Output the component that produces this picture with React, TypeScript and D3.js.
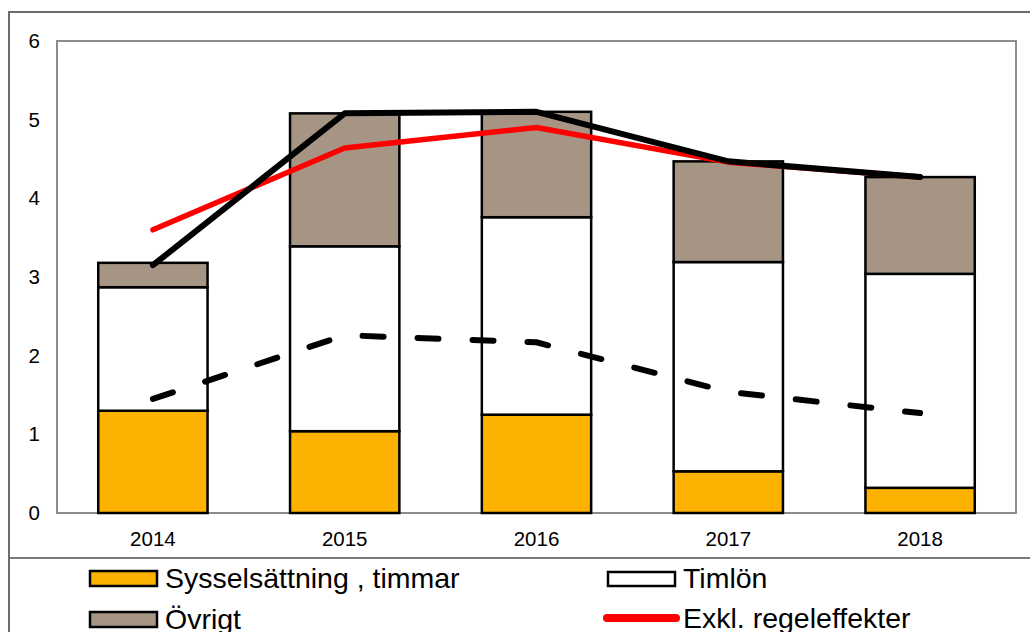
import React from 'react'
import * as d3 from 'd3'

const years = ['2014', '2015', '2016', '2017', '2018']
const sysselsattning = [1.3, 1.04, 1.25, 0.53, 0.32]
const timlon = [1.57, 2.35, 2.51, 2.66, 2.72]
const ovrigt = [0.31, 1.69, 1.34, 1.28, 1.23]
const totalLine = [3.15, 5.08, 5.1, 4.47, 4.27]
const exklRegel = [3.6, 4.64, 4.9, 4.46, 4.27]
const dashedLine = [1.45, 2.26, 2.17, 1.54, 1.27]
const yTicks = [0, 1, 2, 3, 4, 5, 6]

const W = 1030
const H = 632
const plot = { left: 57, right: 1016, top: 41, bottom: 513 }

const colors = { syss: '#FDB100', tim: '#FFFFFF', ovr: '#A69585' }

export default function App() {
  const x = d3.scaleBand<string>()
    .domain(years)
    .range([plot.left, plot.right])
    .paddingInner(0.43)
    .paddingOuter(0.215)
  const y = d3.scaleLinear().domain([0, 6]).range([plot.bottom, plot.top])

  const rows = years.map((yr, i) => ({ yr, syss: sysselsattning[i], tim: timlon[i], ovr: ovrigt[i] }))
  const stacked = d3.stack<any>().keys(['syss', 'tim', 'ovr'])(rows)

  const cx = (i: number) => (x(years[i]) as number) + x.bandwidth() / 2
  const line = d3.line<number>().x((d, i) => cx(i)).y(d => y(d))

  const font = 'Arial, "Liberation Sans", sans-serif'

  return (
    <svg width={W} height={H} style={{ position: 'absolute', left: 0, top: 0, display: 'block', background: '#fff' }}
      fontFamily={font}>
      {/* outer frame */}
      <rect x={9} y={12} width={1040} height={700} fill="none" stroke="#6b6b6b" strokeWidth={2} />
      <line x1={9} x2={W} y1={558} y2={558} stroke="#7a7a7a" strokeWidth={2} />

      {/* plot frame */}
      <rect x={plot.left} y={plot.top} width={plot.right - plot.left} height={plot.bottom - plot.top}
        fill="none" stroke="#8c8c8c" strokeWidth={2} />

      {yTicks.map(t => (
        <text key={t} x={40} y={y(t) + 7} textAnchor="end" fontSize={20.5} fill="#000">{t}</text>
      ))}
      {years.map((yr, i) => (
        <text key={yr} x={cx(i)} y={546} textAnchor="middle" fontSize={20.5} fill="#000">{yr}</text>
      ))}

      {stacked.map(layer => (
        <g key={layer.key}>
          {layer.map((d, i) => (
            <rect key={i} x={x(years[i])} y={y(d[1])} width={x.bandwidth()} height={y(d[0]) - y(d[1])}
              fill={(colors as any)[layer.key]} stroke="#000" strokeWidth={2.5} />
          ))}
        </g>
      ))}

      <path d={line(exklRegel) as string} fill="none" stroke="#FF0000" strokeWidth={5.5} strokeLinecap="round" strokeLinejoin="round" />
      <path d={line(totalLine) as string} fill="none" stroke="#000" strokeWidth={6} strokeLinecap="round" strokeLinejoin="round" />
      <path d={line(dashedLine) as string} fill="none" stroke="#000" strokeWidth={6} strokeLinecap="round"
        strokeDasharray="21 34" />

      {/* legend */}
      <rect x={90} y={571} width={67} height={15} fill={colors.syss} stroke="#000" strokeWidth={2.5} />
      <text x={165} y={588} fontSize={28.5}>Sysselsättning , timmar</text>
      <rect x={90} y={612} width={67} height={15} fill={colors.ovr} stroke="#000" strokeWidth={2.5} />
      <text x={165} y={629} fontSize={28.5}>Övrigt</text>
      <rect x={608} y={572} width={67} height={14} fill="#fff" stroke="#000" strokeWidth={2.5} />
      <text x={683} y={588} fontSize={28.5}>Timlön</text>
      <line x1={607} x2={676} y1={618} y2={618} stroke="#FF0000" strokeWidth={8} strokeLinecap="round" />
      <text x={683} y={628} fontSize={28.5}>Exkl. regeleffekter</text>
    </svg>
  )
}
